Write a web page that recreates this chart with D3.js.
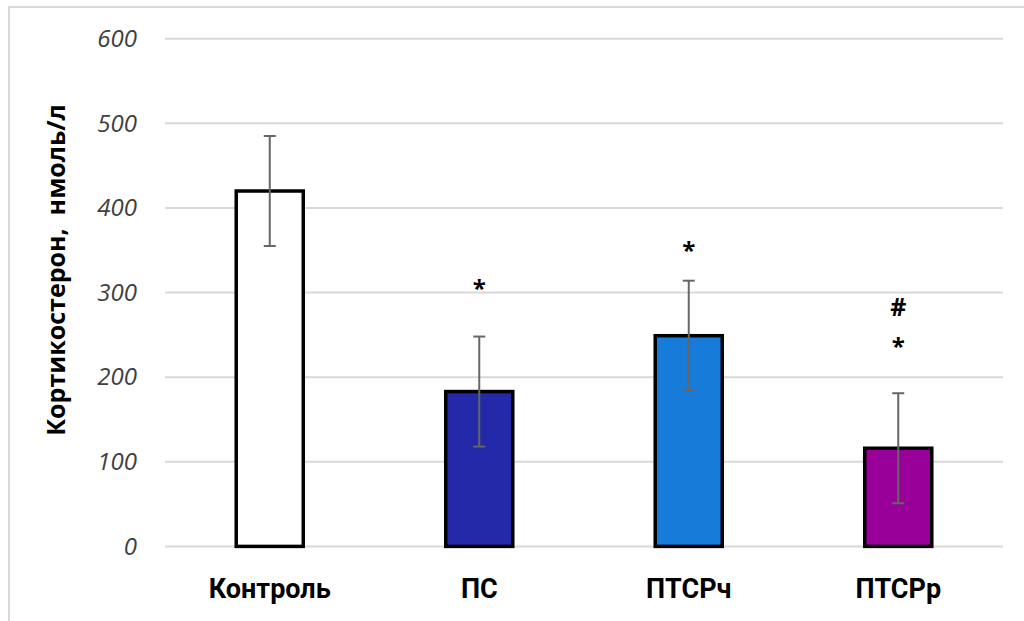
<!DOCTYPE html>
<html>
<head>
<meta charset="utf-8">
<script src="https://cdnjs.cloudflare.com/ajax/libs/d3/7.8.5/d3.min.js"></script>
<style>
  html, body { margin: 0; padding: 0; background: #fff; }
  svg { display: block; }
</style>
</head>
<body>
<svg id="chart" width="1024" height="621"></svg>
<script>
// Corticosterone levels by group (mean ± error)
const groups = ["Контроль", "ПС", "ПТСРч", "ПТСРр"];
const means = [420, 183, 249, 116];
const errors = [65, 65, 65, 65];
const fills = ["#ffffff", "#2329a8", "#167bd9", "#990099"];
// significance symbols and the level (in nmol/l units) where each is placed
const markSymbols = [[], ["*"], ["*"], ["*", "#"]];
const markLevels = [[], [310], [355], [241, 282]];
const yTicks = [0, 100, 200, 300, 400, 500, 600];
const yTitle = "Кортикостерон,  нмоль/л";

const svg = d3.select("#chart");
const plot = { left: 165, right: 1003, top: 38.7, bottom: 546.4 };

// outer frame
svg.append("rect")
  .attr("x", 9).attr("y", 7).attr("width", 1030).attr("height", 640)
  .attr("fill", "none").attr("stroke", "#d9d9d9").attr("stroke-width", 2);

const x = d3.scaleBand().domain(groups).range([plot.left, plot.right]).paddingInner(0.68).paddingOuter(0.34);
const y = d3.scaleLinear().domain([0, 600]).range([plot.bottom, plot.top]);

// gridlines
svg.append("g").selectAll("line").data(yTicks).join("line")
  .attr("x1", plot.left).attr("x2", plot.right)
  .attr("y1", d => y(d)).attr("y2", d => y(d))
  .attr("stroke", "#d9d9d9").attr("stroke-width", 2);

// y axis labels
const yAxis = d3.axisLeft(y).tickValues(yTicks).tickSize(0).tickPadding(0);
const gy = svg.append("g").attr("transform", "translate(137,0)").call(yAxis);
gy.select(".domain").remove();
gy.selectAll("text")
  .attr("font-family", "'Open Sans', sans-serif")
  .attr("font-style", "italic")
  .attr("font-size", 24)
  .attr("fill", "#404040");

// x axis labels
const xAxis = d3.axisBottom(x).tickSize(0).tickPadding(0);
const gx = svg.append("g").attr("transform", "translate(0,0)").call(xAxis);
gx.select(".domain").remove();
gx.selectAll("text")
  .attr("y", 598)
  .attr("dy", 0)
  .attr("font-family", "Roboto, sans-serif")
  .attr("font-weight", "bold")
  .attr("font-size", 27)
  .attr("fill", "#000");

// bars
const idx = groups.map((g, i) => i);
svg.append("g").selectAll("rect").data(idx).join("rect")
  .attr("x", i => x(groups[i]))
  .attr("width", x.bandwidth())
  .attr("y", i => y(means[i]))
  .attr("height", i => y(0) - y(means[i]))
  .attr("fill", i => fills[i])
  .attr("stroke", "#000").attr("stroke-width", 3.5);

// error bars
const eb = svg.append("g").attr("stroke", "#666").attr("stroke-width", 2);
idx.forEach(i => {
  const cx = x(groups[i]) + x.bandwidth() / 2;
  eb.append("line").attr("x1", cx).attr("x2", cx)
    .attr("y1", y(means[i] + errors[i])).attr("y2", y(means[i] - errors[i]));
  [means[i] + errors[i], means[i] - errors[i]].forEach(v => {
    eb.append("line").attr("x1", cx - 6).attr("x2", cx + 6)
      .attr("y1", y(v)).attr("y2", y(v));
  });
});

// significance marks
idx.forEach(i => {
  const cx = x(groups[i]) + x.bandwidth() / 2;
  markSymbols[i].forEach((m, k) => {
    // asterisk glyph sits high, hash sits centered on the cap height
    const shift = m === "*" ? 13 : 8.5;
    svg.append("text")
      .attr("x", cx)
      .attr("y", y(markLevels[i][k]) + shift)
      .attr("text-anchor", "middle")
      .attr("font-family", "'Open Sans', sans-serif")
      .attr("font-weight", "bold")
      .attr("font-size", m === "*" ? 24 : 25)
      .attr("fill", "#000")
      .text(m);
  });
});

// y axis title
svg.append("text")
  .attr("transform", "translate(55,270) rotate(-90)")
  .attr("text-anchor", "middle")
  .attr("dominant-baseline", "central")
  .attr("font-family", "'Open Sans', sans-serif")
  .attr("font-weight", "bold")
  .attr("font-size", 25)
  .attr("fill", "#000")
  .style("white-space", "pre")
  .text(yTitle);
</script>
</body>
</html>
